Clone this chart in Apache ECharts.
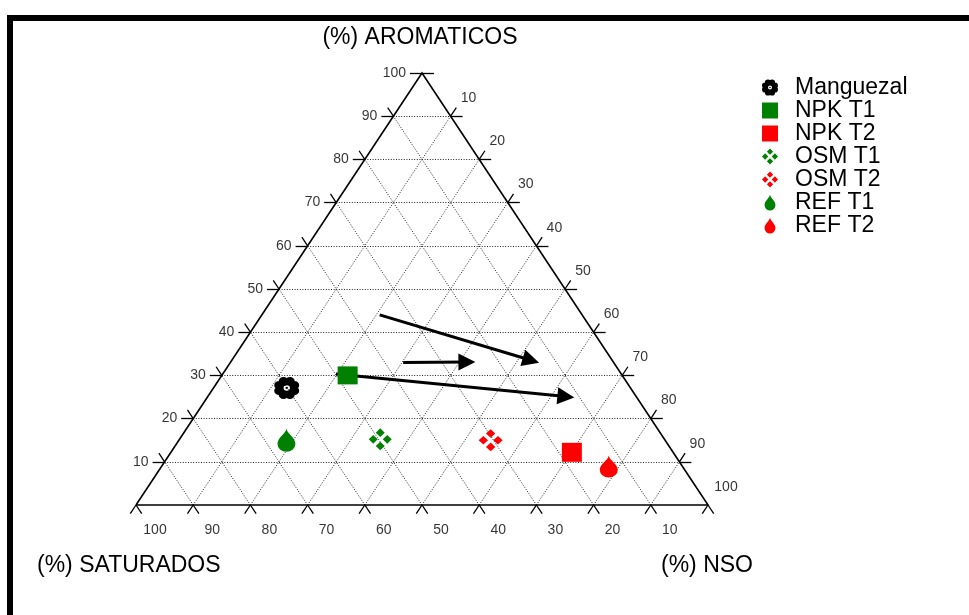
<!DOCTYPE html>
<html>
<head>
<meta charset="utf-8">
<script src="https://cdn.jsdelivr.net/npm/echarts@6/dist/echarts.min.js"></script>
<style>
  html, body { margin: 0; padding: 0; background: #fff; }
  #chart { width: 969px; height: 615px; }
</style>
</head>
<body>
<div id="chart"></div>
<script>
// ternary data: % aromaticos (top), % NSO (bottom right), % saturados (bottom left)
const categories = ['Manguezal', 'NPK T1', 'NPK T2', 'OSM T1', 'OSM T2', 'REF T1', 'REF T2']
const aromaticos = [27.1, 30.0, 12.2, 15.2, 15.0, 15.0, 8.9]
const nso = [12.8, 22.0, 70.1, 35.1, 54.5, 18.8, 78.2]
const saturados = [60.1, 48.0, 17.7, 49.7, 30.5, 66.2, 12.9]

// arrows (start -> end) as [aromaticos, nso]
const arrowStart = [[44.0, 20.6], [33.0, 30.2], [30.3, 19.8]]
const arrowEnd = [[33.5, 52.3], [33.1, 41.3], [25.1, 62.6]]

const gridValues = [10, 20, 30, 40, 50, 60, 70, 80, 90]
const tickValues = [10, 20, 30, 40, 50, 60, 70, 80, 90, 100]
const bottomValues = [0, 10, 20, 30, 40, 50, 60, 70, 80, 90, 100]

const FONT = "'Liberation Sans', Arial, sans-serif"
const GREEN = '#008000'
const RED = '#ff0000'

// ternary -> cartesian (x: 0..100 along base, y: aromaticos)
function toXY(a, n) {
  return [n + a / 2, a]
}

function circ(cx, cy, r, cw) {
  const s = cw ? 1 : 0
  return `M${cx - r} ${cy}A${r} ${r} 0 1 ${s} ${cx + r} ${cy}A${r} ${r} 0 1 ${s} ${cx - r} ${cy}Z`
}
let flowerPath = circ(12, 12, 7, true)
for (let i = 0; i < 8; i++) {
  const ang = i * Math.PI / 4 + Math.PI / 8
  flowerPath += circ(12 + 7.4 * Math.cos(ang), 12 + 7.4 * Math.sin(ang), 4.3, true)
}
flowerPath += circ(12, 12, 2.8, false) + circ(12, 12, 1.1, true)

const squarePath = 'path://M0 0H10V10H0Z'
const osmPath = 'path://M12 0.5L16.5 5L12 9.5L7.5 5Z M5 7.5L9.5 12L5 16.5L0.5 12Z M19 7.5L23.5 12L19 16.5L14.5 12Z M12 14.5L16.5 19L12 23.5L7.5 19Z'
const dropPath = 'path://M8 0C8.5 5 16 9 16 15.5A8 8 0 0 1 0 15.5C0 9 7.5 5 8 0Z'

const symbols = ['path://' + flowerPath, squarePath, squarePath, osmPath, osmPath, dropPath, dropPath]
const sizes = [[25, 22], [20, 18], [20, 19], [23, 22], [24, 22], [18, 23], [18, 22]]
const colors = ['#000', GREEN, RED, GREEN, RED, GREEN, RED]

// grid lines inside the triangle
const gridSegs = []
gridValues.forEach(k => {
  gridSegs.push({ coords: [toXY(k, 0), toXY(k, 100 - k)] })
  gridSegs.push({ coords: [toXY(0, k), toXY(100 - k, k)] })
  gridSegs.push({ coords: [toXY(0, 100 - k), toXY(100 - k, 0)] })
})

// outer ticks
const T = 2, H = 2.1
const tickSegs = []
tickValues.forEach(k => {
  const [lx, ly] = toXY(k, 0)
  tickSegs.push({ coords: [[lx, ly], [lx - H, ly]] })
  if (k < 100) tickSegs.push({ coords: [[lx, ly], [lx - T / 2, ly + T]] })
  const [rx, ry] = toXY(k, 100 - k)
  tickSegs.push({ coords: [[rx, ry], [rx + H, ry]] })
  if (k < 100) tickSegs.push({ coords: [[rx, ry], [rx + T / 2, ry + T]] })
})
bottomValues.forEach(k => {
  const [bx, by] = toXY(0, k)
  tickSegs.push({ coords: [[bx, by], [bx - T / 2, by - T]] })
  tickSegs.push({ coords: [[bx, by], [bx + T / 2, by - T]] })
})

const edges = [{ coords: [toXY(0, 0), toXY(100, 0), toXY(0, 100), toXY(0, 0)] }]

const arrows = arrowStart.map((s, i) => ({
  coords: [toXY(s[0], s[1]), toXY(arrowEnd[i][0], arrowEnd[i][1])]
}))

const labelFont = { fontFamily: FONT, fontSize: 14, color: '#000' }

const chart = echarts.init(document.getElementById('chart'))

const series = [{
    type: 'lines',
    coordinateSystem: 'cartesian2d',
    silent: true,
    clip: false,
    lineStyle: { color: '#222', width: 1, type: [1, 1.6], opacity: 1 },
    data: gridSegs
  },
  {
    type: 'lines',
    coordinateSystem: 'cartesian2d',
    silent: true,
    clip: false,
    lineStyle: { color: '#000', width: 1.3, opacity: 1 },
    data: tickSegs
  },
  {
    type: 'lines',
    coordinateSystem: 'cartesian2d',
    polyline: true,
    silent: true,
    clip: false,
    lineStyle: { color: '#000', width: 1.6, opacity: 1 },
    data: edges
  },
  // axis labels
  {
    type: 'scatter',
    silent: true,
    symbolSize: 0,
    clip: false,
    data: tickValues.map(k => toXY(k, 0).concat(k)),
    label: Object.assign({ show: true, position: 'inside', align: 'right', offset: [-16, 0], formatter: p => p.value[2] }, labelFont)
  },
  {
    type: 'scatter',
    silent: true,
    symbolSize: 0,
    clip: false,
    data: tickValues.map(k => toXY(100 - k, k).concat(k)),
    label: Object.assign({ show: true, position: 'inside', offset: [18, -18], formatter: p => p.value[2] }, labelFont)
  },
  {
    type: 'scatter',
    silent: true,
    symbolSize: 0,
    clip: false,
    data: tickValues.map(k => toXY(0, 100 - k).concat(k)),
    label: Object.assign({ show: true, position: 'inside', offset: [19, 25], formatter: p => p.value[2] }, labelFont)
  },
  {
    type: 'lines',
    coordinateSystem: 'cartesian2d',
    silent: true,
    clip: false,
    symbol: ['none', 'triangle'],
    symbolSize: 17,
    lineStyle: { color: '#000', width: 3, opacity: 1 },
    itemStyle: { color: '#000' },
    data: arrows
  }
]

categories.forEach((name, i) => {
  series.push({
    name: name,
    type: 'scatter',
    symbol: symbols[i],
    symbolSize: sizes[i],
    symbolKeepAspect: false,
    clip: false,
    itemStyle: { color: colors[i], opacity: 1 },
    data: [toXY(aromaticos[i], nso[i]).concat(saturados[i])]
  })
})

const option = {
  backgroundColor: '#fff',
  animation: false,
  grid: { left: 136, right: 261, top: 73, bottom: 110 },
  xAxis: { type: 'value', min: 0, max: 100, show: false },
  yAxis: { type: 'value', min: 0, max: 100, show: false },
  legend: {
    data: categories,
    orient: 'vertical',
    left: 757,
    top: 71,
    itemWidth: 40,
    itemHeight: 16,
    itemGap: 0,
    symbolKeepAspect: true,
    textStyle: { fontFamily: FONT, fontSize: 23, lineHeight: 23, color: '#000' }
  },
  graphic: [{
      type: 'rect',
      shape: { x: 10, y: 18, width: 1000, height: 700 },
      style: { fill: 'none', stroke: '#000', lineWidth: 6 }
    },
    {
      type: 'text',
      x: 420, y: 38,
      style: { text: '(%) AROMATICOS', fontFamily: FONT, fontSize: 23, fill: '#000', align: 'center', verticalAlign: 'middle' }
    },
    {
      type: 'text',
      x: 37, y: 566,
      style: { text: '(%) SATURADOS', fontFamily: FONT, fontSize: 23, fill: '#000', align: 'left', verticalAlign: 'middle' }
    },
    {
      type: 'text',
      x: 661, y: 566,
      style: { text: '(%) NSO', fontFamily: FONT, fontSize: 23, fill: '#000', align: 'left', verticalAlign: 'middle' }
    }
  ],
  series: series
}

chart.setOption(option)
</script>
</body>
</html>
